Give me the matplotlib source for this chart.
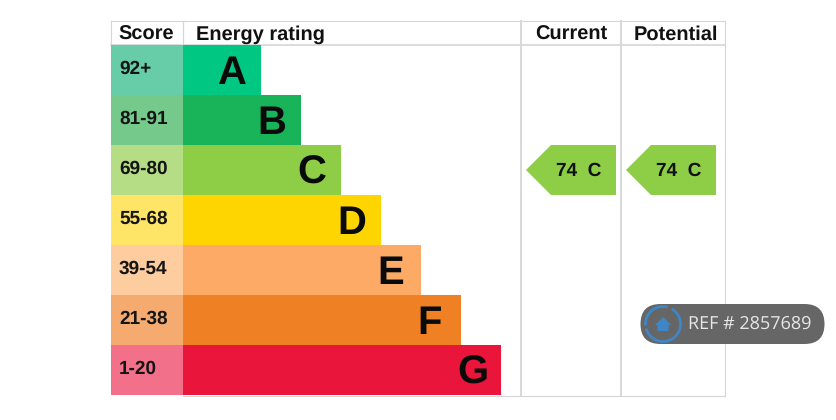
import matplotlib
matplotlib.use("Agg")
import matplotlib.pyplot as plt
from matplotlib.patches import Polygon, Rectangle, FancyBboxPatch, Arc

scores = ["92+", "81-91", "69-80", "55-68", "39-54", "21-38", "1-20"]
letters = ["A", "B", "C", "D", "E", "F", "G"]
bar_lengths = [78, 118, 158, 198, 238, 278, 318]
bar_colors = ["#00c781", "#19b459", "#8dce46", "#ffd500", "#fcaa65", "#ef8023", "#e9153b"]
score_colors = ["#66cda8", "#75c98b", "#b5dd85", "#ffe566", "#fdcc9f", "#f5ab70", "#f2708a"]
letter_insets = [29, 29, 29, 29, 30, 31, 28]
headers = ["Score", "Energy rating", "Current", "Potential"]
current = "74  C"
potential = "74  C"
current_band = 2
ref_text = "REF # 2857689"

FONT = "Liberation Sans"
GRID = "#d6d6d6"
plt.rcParams["text.hinting"] = "no_hinting"
plt.rcParams["text.hinting_factor"] = 1
fig = plt.figure(figsize=(8.36, 4.20), dpi=100, facecolor="white")
ax = fig.add_axes([0, 0, 1, 1])
ax.set_xlim(0, 836)
ax.set_ylim(420, 0)
ax.axis("off")

L, T, H, R, B = 111, 20.5, 44.5, 725, 395.5
SC, BAR0, CUR, POT = 183, 183, 520.5, 620.5
ROW = 50
ax.plot([L, R], [T, T], color=GRID, lw=0.8, zorder=1)
ax.plot([L, R], [H, H], color=GRID, lw=1.2, zorder=1)
ax.plot([SC, SC], [T, H], color=GRID, lw=0.9, zorder=1)
ax.plot([L, L], [T, H], color=GRID, lw=0.8, zorder=1)
ax.plot([CUR, CUR], [T, B], color=GRID, lw=1.3, zorder=1)
ax.plot([POT, POT], [T, B], color=GRID, lw=1.3, zorder=1)
ax.plot([R, R], [T, B], color=GRID, lw=0.8, zorder=1)
ax.plot([BAR0, R], [B, B], color=GRID, lw=0.8, zorder=1)

for x, h, ha in zip([146.5, 196, 571.5, 676], headers, ["center", "left", "center", "center"]):
    ax.text(x, 39.5, h, ha=ha, va="baseline", family=FONT, weight="bold", fontsize=14.4, color="#111111")

for i, (s, l, n, bc, sc, ins) in enumerate(zip(scores, letters, bar_lengths, bar_colors, score_colors, letter_insets)):
    y = 45 + i * ROW
    ax.add_patch(Rectangle((L, y), SC - L, ROW, fc=sc, ec="none", zorder=2))
    ax.barh(y + ROW / 2, n, height=ROW, left=BAR0, color=bc, zorder=2)
    ax.text(119, y + 29, s, ha="left", va="baseline", family=FONT, weight="bold", fontsize=14, color="#151515", zorder=3)
    ax.text(BAR0 + n - ins, y + 39, l, ha="center", va="baseline", family=FONT, weight="bold", fontsize=29, color="#0a0a0a", zorder=3)

for x0, t in zip([CUR, POT], [current, potential]):
    yc = 45 + current_band * ROW + ROW / 2
    ax.add_patch(Polygon([(x0 + 5.5, yc), (x0 + 30.5, yc - 25), (x0 + 95.5, yc - 25), (x0 + 95.5, yc + 25), (x0 + 30.5, yc + 25)],
                         closed=True, fc="#8dce46", ec="none", zorder=2))
    ax.text(x0 + 58, yc + 5.5, t, ha="center", va="baseline", family=FONT, weight="bold", fontsize=14, color="#111111", zorder=3)

# watermark pill
ax.add_patch(FancyBboxPatch((640.5, 304), 184, 40, boxstyle="round,pad=0,rounding_size=20",
                            fc="#666666", ec="none", zorder=4))
ax.add_patch(Arc((663, 324), 35, 35, theta1=-60, theta2=165, color="#3f86c6", lw=2.0, zorder=5))
ax.add_patch(Arc((663, 324), 35, 35, theta1=175, theta2=285, color="#3f86c6", lw=2.0, zorder=5))
ax.add_patch(Polygon([(655, 325), (663, 317), (671, 325), (668.5, 325), (668.5, 331), (657.5, 331), (657.5, 325)],
                     closed=True, fc="#3f86c6", ec="none", zorder=5))
ax.text(687.5, 329, ref_text, ha="left", va="baseline", family="Open Sans", weight="normal", fontsize=13.2, color="#e8e8e8", zorder=5)

fig.savefig("out.png", dpi=100)
